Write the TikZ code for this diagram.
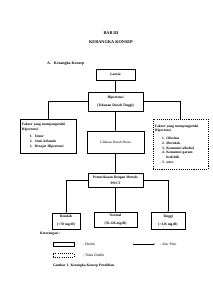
\documentclass[tikz,border=0pt]{standalone}
\usepackage{fontspec}
\setmainfont{Liberation Serif}
\usetikzlibrary{arrows.meta}
\begin{document}
\begin{tikzpicture}[x=0.099cm,y=-0.099cm,
  every node/.style={inner sep=0pt,outer sep=0pt},
  box/.style={draw, line width=0.9pt, align=center, font=\bfseries\fontsize{10}{12}\selectfont},
  factor/.style={box, align=left, font=\bfseries\fontsize{10}{14}\selectfont, inner xsep=0.2cm},
  flow/.style={line width=0.6pt, -{Latex[length=3.5pt,width=3pt]}},
  title/.style={font=\bfseries\fontsize{12}{14}\selectfont},
  note/.style={font=\fontsize{10}{12}\selectfont, anchor=west},
  legbox/.style={draw, line width=0.9pt, minimum width=2.08cm, minimum height=0.4cm}]
\useasboundingbox (0,0) rectangle (212,300);
\fill[white] (0,0) rectangle (212,300);

\node[title] (bab) at (111,33) {BAB III};
\node[title] (kk) at (111,42) {KERANGKA KONSEP};
\node[anchor=west, font=\bfseries\fontsize{11}{13}\selectfont] (sub) at (47,64) {A.\hspace{9pt}Kerangka Konsep};

\node[box, minimum width=3.86cm, minimum height=1.09cm] (lansia) at (115.5,74.5) {Lansia};
\node[box, minimum width=5.45cm, minimum height=1.88cm] (hip) at (115.5,101.5) {Hipertensi\\[10pt](Tekanan Darah Tinggi)};
\node[factor, text width=5.15cm, minimum height=3.37cm] (lbox) at (48,136) {%
\makebox[\linewidth][s]{Faktor yang mempengaruhi}\\
Hipertensi\\[6pt]
\hspace*{22pt}\makebox[14pt][l]{1.}Umur\\
\hspace*{22pt}\makebox[14pt][l]{2.}Jenis kelamin\\
\hspace*{22pt}\makebox[14pt][l]{3.}Derajat Hipertensi};
\node[factor, dashed, text width=5.05cm, minimum height=4.95cm, font=\bfseries\fontsize{10}{13.5}\selectfont] (rbox) at (180.5,144) {%
\makebox[\linewidth][s]{Faktor yang mempengaruhi}\\
Hipertensi\\[8pt]
\hspace*{20pt}\makebox[12pt][l]{1.}Obesitas\\
\hspace*{20pt}\makebox[12pt][l]{2.}Merokok\\
\hspace*{20pt}\makebox[12pt][l]{3.}Konsumsi alkohol\\
\hspace*{20pt}\makebox[12pt][l]{4.}Konsumsi garam\\
\hspace*{32pt}berlebih\\
\hspace*{20pt}\makebox[12pt][l]{5.}stres};
\node[box, font=\fontsize{10}{12}\selectfont, minimum width=5.64cm, minimum height=2.18cm] (glu) at (115.5,142) {Glukosa Darah Puasa};
\node[box, minimum width=5.45cm, minimum height=1.39cm] (poct) at (115.5,180) {Pemeriksaan Dengan Metode\\[5pt]POCT};
\node[box, minimum width=2.8cm, minimum height=1.6cm] (rendah) at (66,221) {Rendah\\[10pt](<70 mg/dl)};
\node[box, minimum width=4.26cm, minimum height=1.5cm] (normal) at (115.5,219.5) {Normal\\[10pt](70-126 mg/dl)};
\node[box, minimum width=3.4cm, minimum height=1.68cm] (tinggi) at (168,220.5) {Tinggi\\[10pt](>126 mg/dl)};

\draw[flow] (lansia) -- (hip);
\draw[flow] (lbox.north) |- (hip.west);
\draw[flow] (rbox.north) |- (hip.east);
\draw[flow] (hip) -- (glu);
\draw[flow] (glu) -- (poct);
\draw[flow] (poct.west) -| (rendah.north);
\draw[flow] (poct) -- (normal);
\draw[flow] (poct.east) -| (tinggi.north);

\node[anchor=west, font=\bfseries\fontsize{10}{12}\selectfont] (ket) at (40,234) {Keterangan :};
\node[legbox] (ls) at (63.5,244) {};
\node[note] (lst) at (83,244) {: Diteliti};
\coordinate (a1) at (133,244);
\coordinate (a2) at (155,244);
\draw[flow] (a1) -- (a2);
\node[note] (lat) at (160,244) {: Alur Pikir};
\node[legbox, dashed] (ld) at (63.5,255) {};
\node[note] (ldt) at (83,255) {: Tidak Diteliti};
\node[anchor=west, font=\bfseries\fontsize{10}{12}\selectfont] (cap) at (53,266) {Gambar 1. Kerangka Konsep Penelitian};
\end{tikzpicture}
\end{document}
